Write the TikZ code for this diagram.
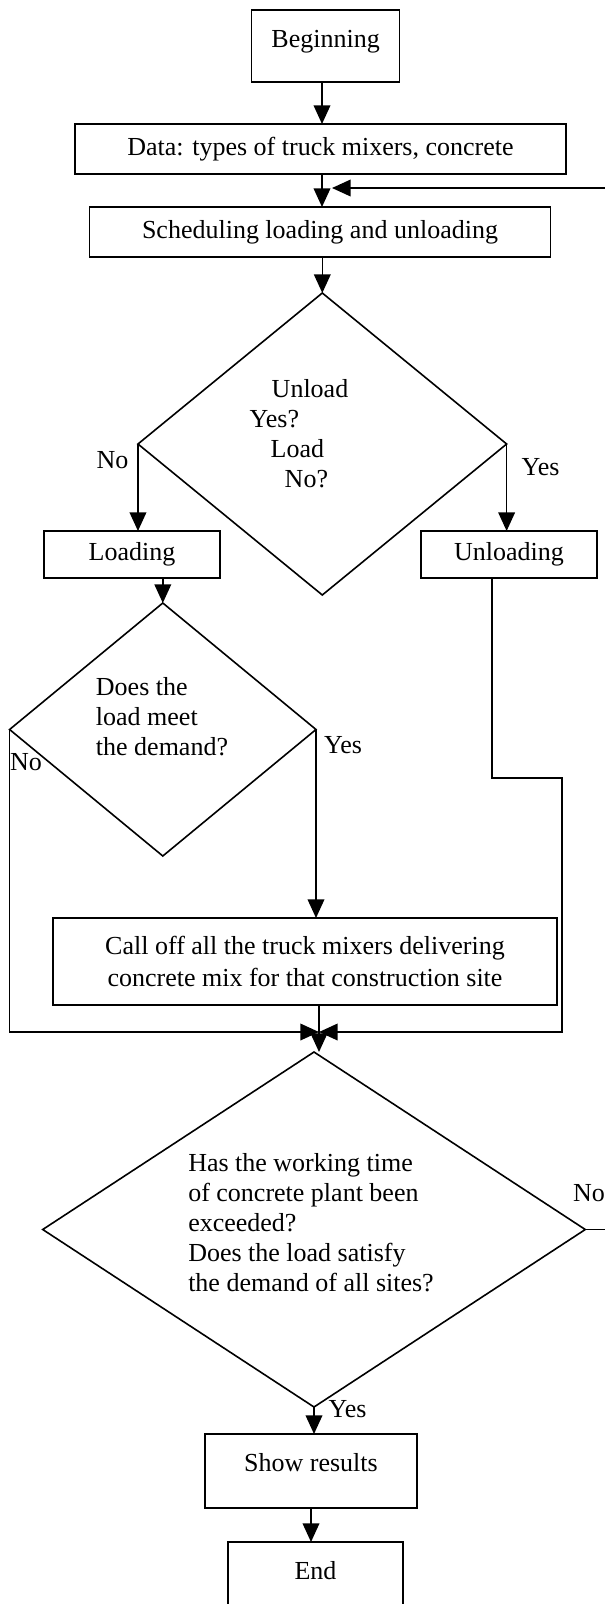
\documentclass[tikz,border=0pt]{standalone}
\usepackage{fontspec}
\setmainfont{Liberation Serif}
\usetikzlibrary{shapes.geometric,arrows.meta}
\tikzset{every picture/.style={line width=1.2pt}}
\tikzset{
  box/.style={draw, rectangle, inner sep=0pt, outer sep=0pt, align=center},
  tallbox/.style={box, text height=27.75pt, text depth=26.25pt},
  decision/.style={draw, diamond, inner sep=0pt, outer sep=0pt},
  arr/.style={-{Triangle[length=14pt,width=12.5pt]}},
  lbl/.style={inner sep=0pt}
}

\begin{document}
\begin{tikzpicture}[x=0.75pt,y=0.75pt,yscale=-1,xscale=1,font=\fontsize{19.5}{22.5}\selectfont]
\useasboundingbox (0,0) rectangle (605,1604);

% Boxes
\node[tallbox, minimum width=111pt, anchor=north] (begin) at (325.6,10) {Beginning};
\node[box, minimum width=368.25pt, minimum height=37.5pt] (data) at (320.5,149) {Data: types of truck mixers, concrete};
\node[box, minimum width=345.75pt, minimum height=37.5pt] (sched) at (320,232) {Scheduling loading and unloading};
\node[box, minimum width=132pt, minimum height=35.25pt] (load) at (132,554.5) {Loading};
\node[box, minimum width=132pt, minimum height=35.25pt] (unload) at (509,554.5) {Unloading};
\node[box, minimum width=378pt, minimum height=65.25pt, font=\fontsize{19.5}{24}\selectfont] (call) at (305,961.5) {Call off all the truck mixers delivering\\concrete mix for that construction site};
\node[tallbox, text depth=27.75pt, minimum width=159pt, anchor=north] (show) at (311,1434) {Show results};
\node[tallbox, minimum width=131.25pt, anchor=north] (end) at (315.5,1542) {End};

% Decisions
\node[decision, minimum width=276.5pt, minimum height=226.5pt] (q1) at (322.3,444) {};
\node[decision, minimum width=229.8pt, minimum height=189.75pt] (q2) at (162.8,729.5) {};
\node[decision, minimum width=406.9pt, minimum height=266.25pt] (q3) at (314,1229.5) {};

% Text Node
\node[lbl, align=left] (q1txt) at (299,434) {\hspace*{16.5pt}Unload\\Yes?\\\hspace*{15.75pt}Load\\\hspace*{26.25pt}No?};
% Text Node
\node[lbl, align=left] (q2txt) at (162,717) {Does the\\load meet\\the demand?};
% Text Node
\node[lbl, align=left] (q3txt) at (311,1222.5) {Has the working time\\of concrete plant been\\exceeded?\\Does the load satisfy\\the demand of all sites?};

% Labels
\node[lbl] (q1no) at (112.5,460) {No};
\node[lbl] (q1yes) at (540.5,467) {Yes};
\node[lbl] (q2no) at (26,762) {No};
\node[lbl] (q2yes) at (343,745) {Yes};
\node[lbl] (q3no) at (589,1193) {No};
\node[lbl] (q3yes) at (347.5,1409) {Yes};

% Joints
\coordinate (spine) at (322,0);
\coordinate (merge) at (319,1032);
\coordinate (ubend) at (562,778);
\coordinate (loopin) at (332,188);

% Connectors
\draw[arr] (begin.south -| spine) -- (data.north -| spine);
\draw[arr] (data.south -| spine) -- (sched.north -| spine);
\draw[arr] (sched.south -| q1.north) -- (q1.north);
\draw[arr] (q1.west) -- (q1.west |- load.north);
\draw[arr] (q1.east) -- (q1.east |- unload.north);
\draw[arr] (load.south -| q2.north) -- (q2.north);
\draw[arr] (q2.east) -- (q2.east |- call.north);
\draw[arr] (q2.west) |- (merge);
\draw[arr] ([xshift=-12.75pt]unload.south) |- (ubend) |- (merge);
\draw (call.south -| merge) -- (merge);
\draw[arr] (merge) -- (merge |- q3.north);
\draw[arr] (q3.south) -- (q3.south |- show.north);
\draw[arr] (show.south) -- (show.south |- end.north);
\draw[arr] (q3.east) -- ++(40,0) |- (loopin);

\end{tikzpicture}
\end{document}
